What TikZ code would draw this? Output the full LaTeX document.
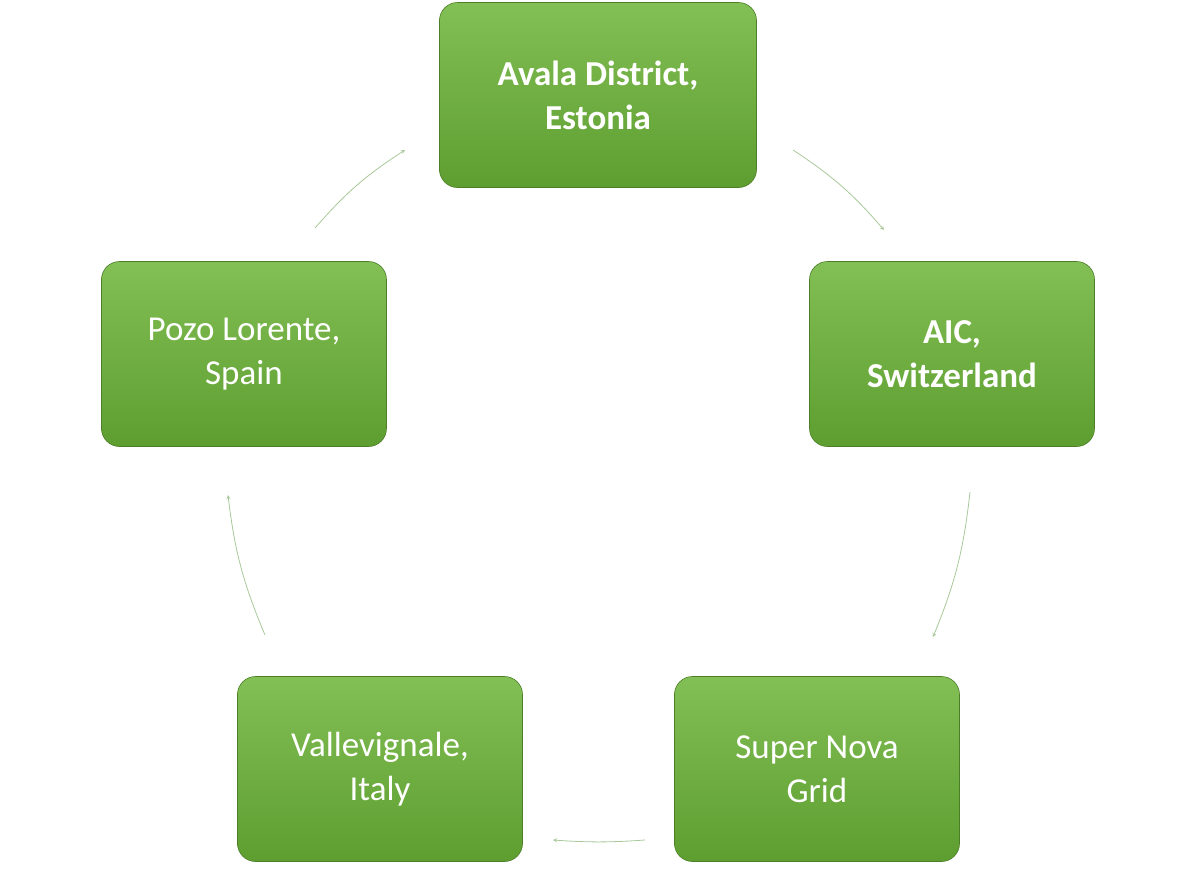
\documentclass[tikz,border=0pt]{standalone}
\usepackage{fontspec}
\setmainfont{Carlito}
\begin{document}
\begin{tikzpicture}[x=1pt,y=-1pt,
  gbox/.style={rounded corners=18pt,top color=gtop,bottom color=gbot,draw=gbot!80!black,line width=0.6pt,
    minimum height=185pt,text=white,align=center,font=\fontsize{35}{44}\selectfont,inner sep=0pt},
  conn/.style={draw=garr,line width=0.8pt,->,>=stealth}]
\definecolor{gtop}{HTML}{82BF55}
\definecolor{gbot}{HTML}{5E9E30}
\definecolor{garr}{HTML}{A8C89A}
\useasboundingbox (0,0) rectangle (1200,876);
\node[gbox,minimum width=317pt,font=\bfseries\fontsize{35}{44}\selectfont] (a) at (598,95) {Avala District,\\Estonia};
\node[gbox,minimum width=285pt,font=\bfseries\fontsize{35}{44}\selectfont] (b) at (952,354) {AIC,\\Switzerland};
\node[gbox,minimum width=285pt] (c) at (817,769) {Super Nova\\Grid};
\node[gbox,minimum width=285pt] (d) at (380,769) {Vallevignale,\\Italy};
\node[gbox,minimum width=285pt] (e) at (244,354) {Pozo Lorente,\\Spain};
\coordinate (a1) at (793,150); \coordinate (a2) at (884,230);
\coordinate (b1) at (970,492); \coordinate (b2) at (933,637);
\coordinate (c1) at (645,840); \coordinate (c2) at (553,840);
\coordinate (d1) at (265,635); \coordinate (d2) at (228,495);
\coordinate (e1) at (315,228); \coordinate (e2) at (405,150);
\draw[conn] (a1) to[bend left=8] (a2);
\draw[conn] (b1) to[bend left=8] (b2);
\draw[conn] (c1) to[bend left=4] (c2);
\draw[conn] (d1) to[bend left=8] (d2);
\draw[conn] (e1) to[bend left=8] (e2);
\end{tikzpicture}
\end{document}
